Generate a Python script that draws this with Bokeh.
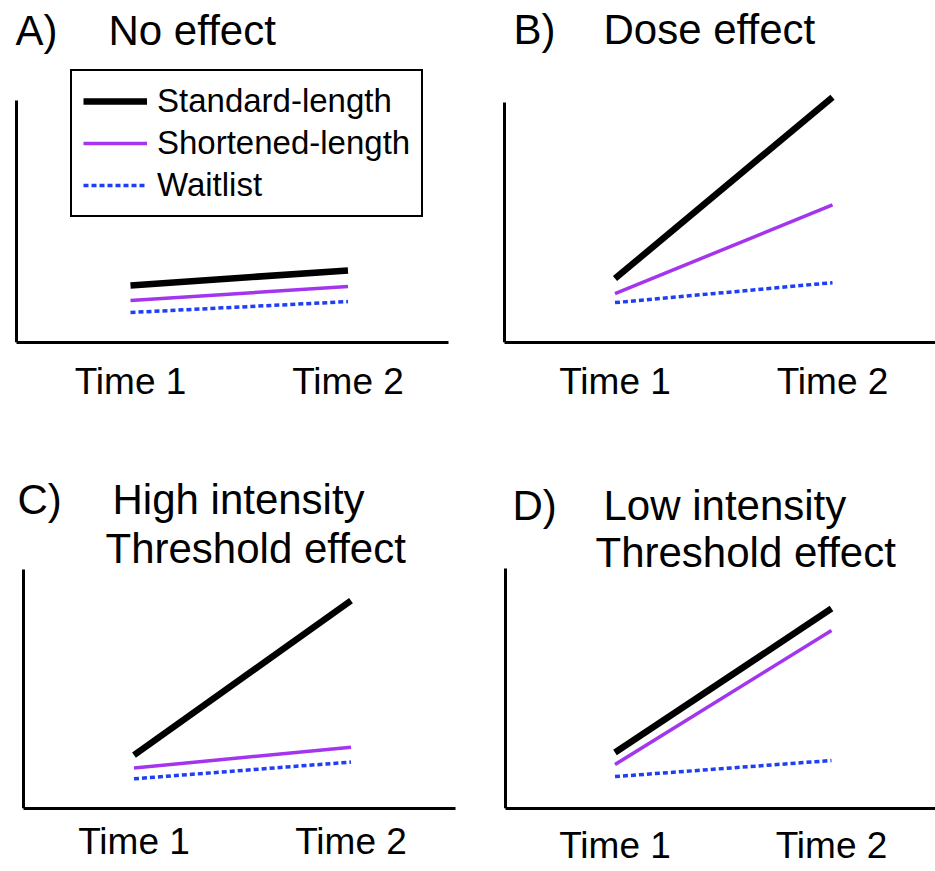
from bokeh.plotting import figure
from bokeh.models import Range1d, FixedTicker, Label, Legend, LegendItem
from bokeh.layouts import row, column
from bokeh.embed import file_html
from bokeh.resources import INLINE

# ---------------- data ----------------
times = [1, 2]
time_labels = ["Time 1", "Time 2"]
series_names = ["Standard-length", "Shortened-length", "Waitlist"]

a_standard = [23.6, 29.8]
a_shortened = [17.4, 23.1]
a_waitlist = [12.4, 16.9]

b_standard = [26.6, 102.1]
b_shortened = [20.3, 57.3]
b_waitlist = [16.6, 24.9]

c_standard = [22.3, 86.8]
c_shortened = [16.9, 25.6]
c_waitlist = [12.4, 19.4]

d_standard = [23.3, 83.3]
d_shortened = [18.3, 74.2]
d_waitlist = [13.3, 20.0]

panel_letters = ["A)", "B)", "C)", "D)"]
panel_titles = [["No effect"], ["Dose effect"],
                ["High intensity", "Threshold effect"],
                ["Low intensity", "Threshold effect"]]

# ---------------- styles ----------------
FONT = "Liberation Sans"
STYLES = [
    dict(line_color="#000000", line_width=6.5, line_cap="butt"),
    dict(line_color="#A335EE", line_width=3.5, line_cap="butt"),
    dict(line_color="#1F3FF5", line_width=3.5, line_dash="5 3", line_cap="butt"),
]
LABEL_DY = 15  # baseline correction for Label text


def make_panel(values, letter, titles, ox, oy, w, h, ay, at, ax, xr, m1, m2,
               standoff, letter_pos, title_pos, legend=False):
    bb = oy + h - ay
    s = m2 - m1
    xs = 1 - (m1 - ox) / s
    xe = 2 + (ox + w - m2) / s
    axis_x = 1 - (m1 - ax) / s
    axis_xr = 1 + (xr - m1) / s
    axis_px = ay - at
    y_end = 100.0 * (ay - oy) / axis_px

    p = figure(width=w, height=h, x_range=Range1d(xs, xe), y_range=Range1d(0, y_end),
               output_backend="svg", toolbar_location=None,
               min_border_left=0, min_border_right=0,
               min_border_top=0, min_border_bottom=bb)
    p.outline_line_color = None
    p.grid.visible = False
    p.background_fill_color = "white"
    p.border_fill_color = "white"

    xa = p.xaxis[0]
    xa.ticker = FixedTicker(ticks=times)
    xa.major_label_overrides = {t: lab for t, lab in zip(times, time_labels)}
    xa.bounds = (axis_x, axis_xr)
    xa.major_tick_in = 0
    xa.major_tick_out = 0
    xa.minor_tick_in = 0
    xa.minor_tick_out = 0
    xa.axis_line_width = 3
    xa.axis_line_color = "black"
    xa.major_label_text_font = FONT
    xa.major_label_text_font_size = "37px"
    xa.major_label_text_color = "black"
    xa.major_label_standoff = standoff

    ya = p.yaxis[0]
    ya.ticker = FixedTicker(ticks=[])
    ya.fixed_location = axis_x
    ya.bounds = (0, 100)
    ya.major_tick_in = 0
    ya.major_tick_out = 0
    ya.minor_tick_in = 0
    ya.minor_tick_out = 0
    ya.major_label_text_font_size = "0px"
    ya.major_label_standoff = 0
    ya.axis_line_width = 3
    ya.axis_line_color = "black"

    renderers = []
    for vals, st in zip(values, STYLES):
        r = p.line(times, vals, **st)
        renderers.append(r)

    def add_text(txt, ix, iy):
        p.add_layout(Label(x=ix - ox, y=ay - iy + LABEL_DY, x_units="screen",
                           y_units="screen", text=txt, text_font=FONT,
                           text_font_size="42px", text_color="black",
                           text_align="left", text_baseline="alphabetic"))

    add_text(letter, *letter_pos)
    for txt, pos in zip(titles, title_pos):
        add_text(txt, *pos)

    if legend:
        items = [LegendItem(label=n, renderers=[r]) for n, r in zip(series_names, renderers)]
        lg = Legend(items=items, location=(70 - ox, ay - 217))
        lg.margin = 0
        lg.padding = 11
        lg.spacing = 4
        lg.glyph_width = 64
        lg.glyph_height = 36
        lg.label_height = 36
        lg.label_standoff = 10
        lg.label_text_font = FONT
        lg.label_text_font_size = "33px"
        lg.label_text_color = "black"
        lg.border_line_color = "black"
        lg.border_line_alpha = 1.0
        lg.border_line_width = 2
        lg.background_fill_color = "white"
        lg.background_fill_alpha = 1
        p.add_layout(lg)
    return p


pa = make_panel([a_standard, a_shortened, a_waitlist], panel_letters[0], panel_titles[0],
                0, 0, 478, 428, 342, 100, 16, 448, 130, 347.5, 18,
                (15, 45), [(108, 45)], legend=True)
pb = make_panel([b_standard, b_shortened, b_waitlist], panel_letters[1], panel_titles[1],
                478, 0, 457, 428, 343, 102, 504, 935, 614.5, 832, 18,
                (513, 45), [(603, 45)])
pc = make_panel([c_standard, c_shortened, c_waitlist], panel_letters[2], panel_titles[2],
                0, 428, 478, 443, 812, 570, 23, 455, 133.5, 350.5, 12,
                (17, 518), [(112, 518), (105, 567)])
pd = make_panel([d_standard, d_shortened, d_waitlist], panel_letters[3], panel_titles[3],
                478, 428, 457, 443, 808, 568, 505, 935, 614.5, 831, 16,
                (512, 520), [(603, 520), (595, 567)])

layout = column(row(pa, pb, spacing=0), row(pc, pd, spacing=0), spacing=0)
open("out.html", "w").write(file_html(layout, INLINE))
